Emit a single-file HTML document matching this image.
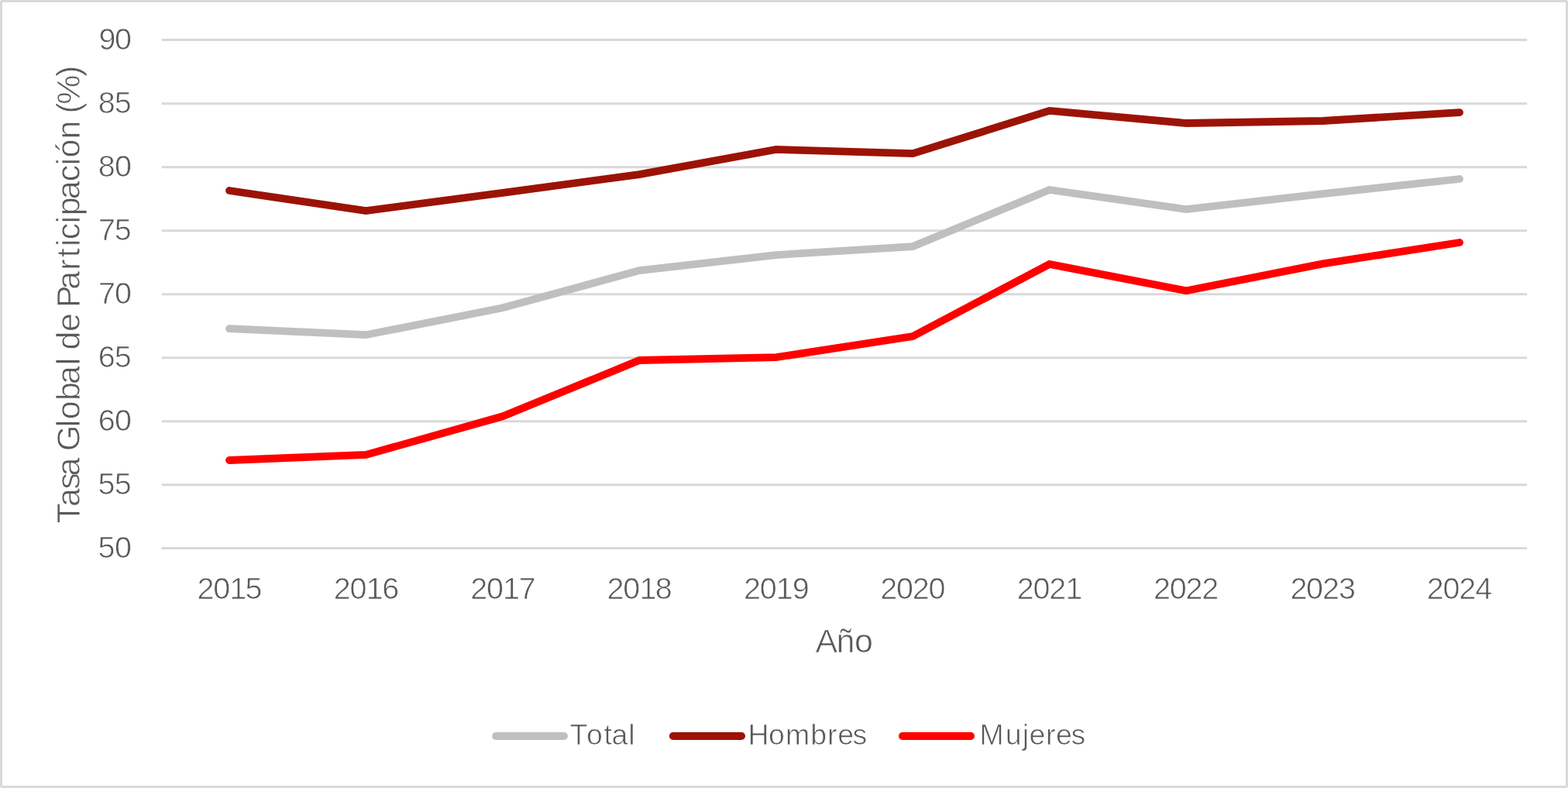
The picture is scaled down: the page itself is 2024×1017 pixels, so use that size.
<!DOCTYPE html>
<html lang="es"><head><meta charset="utf-8"><title>Tasa Global de Participación (%)</title>
<style>
html,body{margin:0;padding:0;background:#fff;}
body{width:2024px;height:1017px;overflow:hidden;}
svg{display:block;}
text{font-family:"Liberation Sans",sans-serif;fill:#595959;stroke:#FFFFFF;stroke-width:0.7px;stroke-linejoin:round;paint-order:fill stroke;}
.grid line{stroke:#D9D9D9;stroke-width:3;}
.series polyline,.legend line{fill:none;stroke-width:9.8;stroke-linecap:round;stroke-linejoin:miter;stroke-miterlimit:10;}
.yticks text,.xticks text{font-size:39.5px;}
.legend text{font-size:37.5px;}
.xtitle{font-size:43px;}
.ytitle{font-size:43px;}
</style></head><body>
<svg width="2024" height="1017" viewBox="0 0 2024 1017">
<rect x="0" y="0" width="2024" height="1017" fill="#FFFFFF"/>
<rect x="1.5" y="1.5" width="2021" height="1014" rx="1" fill="none" stroke="#D9D9D9" stroke-width="3"/>
<g class="grid">
<line x1="208.65" y1="51.5" x2="1971.15" y2="51.5"/>
<line x1="208.65" y1="133.67" x2="1971.15" y2="133.67"/>
<line x1="208.65" y1="215.67" x2="1971.15" y2="215.67"/>
<line x1="208.65" y1="297.67" x2="1971.15" y2="297.67"/>
<line x1="208.65" y1="379.67" x2="1971.15" y2="379.67"/>
<line x1="208.65" y1="461.67" x2="1971.15" y2="461.67"/>
<line x1="208.65" y1="543.67" x2="1971.15" y2="543.67"/>
<line x1="208.65" y1="625.67" x2="1971.15" y2="625.67"/>
<line x1="208.65" y1="707.5" x2="1971.15" y2="707.5"/>
</g>
<g class="yticks">
<text x="127.39 147.98" y="64">90</text>
<text x="126.75 147.74" y="146">85</text>
<text x="126.75 147.98" y="228">80</text>
<text x="127.06 147.74" y="310">75</text>
<text x="127.06 147.98" y="392">70</text>
<text x="126.83 147.74" y="474">65</text>
<text x="126.83 147.98" y="556">60</text>
<text x="126.5 147.74" y="638">55</text>
<text x="126.5 147.98" y="720">50</text>
</g>
<g class="xticks">
<text x="254.51 275.22 296.3 316.51" y="773">2015</text>
<text x="430.87 451.58 472.66 493.19" y="773">2016</text>
<text x="607.23 627.95 649.02 669.78" y="773">2017</text>
<text x="783.59 804.31 825.38 845.84" y="773">2018</text>
<text x="959.95 980.67 1001.74 1022.82" y="773">2019</text>
<text x="1136.31 1157.03 1177.84 1198.56" y="773">2020</text>
<text x="1312.67 1333.39 1354.21 1375.23" y="773">2021</text>
<text x="1489.04 1509.75 1530.57 1551.33" y="773">2022</text>
<text x="1665.4 1686.11 1706.93 1727.93" y="773">2023</text>
<text x="1841.76 1862.47 1883.29 1904.14" y="773">2024</text>
</g>
<text class="xtitle" x="1052.43 1079.52 1102.99" y="842">Año</text>
<text class="ytitle" transform="translate(103.3 673) rotate(-90)" x="-2.62 19.06 41.54 58.47 81.8 90.66 121.89 131.86 155.99 177.07 201.67 210.8 221.55 245.06 267.38 276.12 299.39 324.25 340.79 354.94 363.74 384.49 394.69 415.8 438.79 459.54 469.52 493.5 516.37 526.49 538.27 573.98" y="0">Tasa Global de Participación (%)</text>
<g class="series">
<polyline stroke="#BFBFBF" points="296,424.1 472.45,432.2 648.9,397.2 825.35,349.1 1001.8,329.1 1178.25,318.1 1354.7,245 1531.15,270.1 1707.6,250.1 1884.05,231"/>
<polyline stroke="#9C1306" points="296,246 472.45,272.1 648.9,248.8 825.35,225.1 1001.8,192.9 1178.25,198.1 1354.7,142.9 1531.15,159 1707.6,156 1884.05,145.1"/>
<polyline stroke="#FF0000" points="296,594 472.45,587 648.9,537.3 825.35,465 1001.8,461.1 1178.25,434.1 1354.7,340.9 1531.15,375.2 1707.6,340.4 1884.05,313"/>
</g>
<g class="legend">
<line x1="640" y1="950" x2="728.1" y2="950" stroke="#BFBFBF"/>
<text x="735.59 757.04 779.45 789.57 811.3" y="961">Total</text>
<line x1="868.8" y1="950" x2="957.1" y2="950" stroke="#9C1306"/>
<text x="965.55 992.1 1014.06 1046.34 1068.01 1081.13 1100.4" y="961">Hombres</text>
<line x1="1164.9" y1="950" x2="1253.1" y2="950" stroke="#FF0000"/>
<text x="1264.5 1297.74 1319.76 1328.54 1349.92 1363.08 1382.38" y="961">Mujeres</text>
</g>
</svg>
</body></html>
